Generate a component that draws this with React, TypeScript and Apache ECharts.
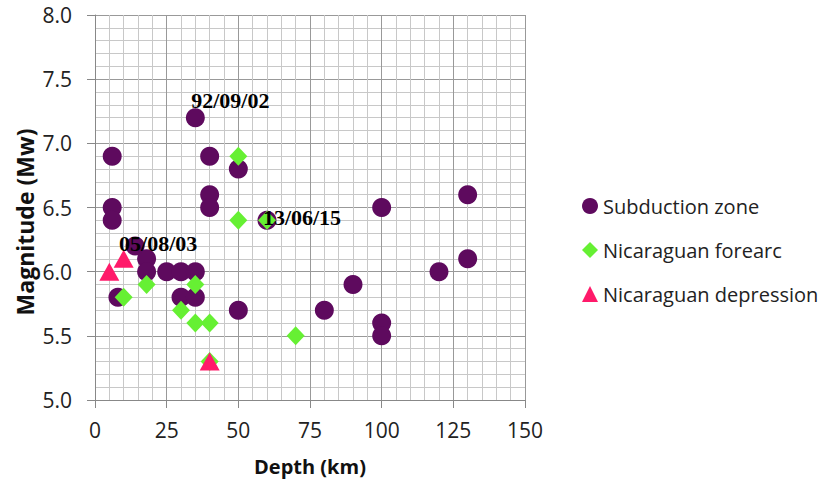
import React, { useEffect, useRef } from "react";
import * as echarts from "echarts";

const subductionDepth = [6, 6, 6, 8, 14, 18, 18, 25, 30, 35, 30, 35, 35, 40, 40, 40, 50, 50, 60, 80, 90, 100, 100, 100, 120, 130, 130];
const subductionMag = [6.9, 6.5, 6.4, 5.8, 6.2, 6.1, 6.0, 6.0, 6.0, 6.0, 5.8, 5.8, 7.2, 6.9, 6.6, 6.5, 6.8, 5.7, 6.4, 5.7, 5.9, 6.5, 5.6, 5.5, 6.0, 6.6, 6.1];

const forearcDepth = [50, 50, 60, 10, 18, 30, 35, 35, 40, 70, 40];
const forearcMag = [6.9, 6.4, 6.4, 5.8, 5.9, 5.7, 5.9, 5.6, 5.6, 5.5, 5.3];

const depressionDepth = [5, 10, 40];
const depressionMag = [6.0, 6.1, 5.3];

const annotationDepth = [35, 60, 14];
const annotationMag = [7.2, 6.4, 6.2];
const annotationText = ["92/09/02", "13/06/15", "05/08/03"];

const seriesNames = ["Subduction zone", "Nicaraguan forearc", "Nicaraguan depression"];
const xTicks = [0, 25, 50, 75, 100, 125, 150];
const yTicks = [5.0, 5.5, 6.0, 6.5, 7.0, 7.5, 8.0];
const xTitle = "Depth (km)";
const yTitle = "Magnitude (Mw)";

const annotationOffsets: number[][] = [[35, -17], [35, -3], [23, -3]];

export default function App() {
  const ref = useRef<HTMLDivElement>(null);
  useEffect(() => {
    if (!ref.current) return;
    const chart = echarts.init(ref.current, undefined, { renderer: "svg" });
    const zip = (a: number[], b: number[]) => a.map((v, i) => [v, b[i]]);
    const font = "'Open Sans', Lato, sans-serif";
    chart.setOption({
      animation: false,
      backgroundColor: "#ffffff",
      grid: { left: 95, right: 302, top: 15, bottom: 83, containLabel: false },
      legend: {
        orient: "vertical",
        left: 577,
        top: 191,
        itemGap: 24,
        itemWidth: 16,
        itemHeight: 16,
        data: seriesNames,
        textStyle: { fontFamily: font, fontSize: 20, color: "#222" },
      },
      graphic: [
        {
          type: "text",
          x: 25,
          y: 222,
          rotation: Math.PI / 2,
          style: {
            text: yTitle,
            fontFamily: font,
            fontSize: 23,
            fontWeight: "bold",
            fill: "#111",
            align: "center",
            verticalAlign: "middle",
          },
        },
      ],
      xAxis: {
        type: "value",
        min: xTicks[0],
        max: xTicks[xTicks.length - 1],
        interval: 25,
        name: xTitle,
        nameLocation: "middle",
        nameGap: 56,
        nameTextStyle: { fontFamily: font, fontSize: 20, fontWeight: "bold", color: "#111" },
        axisLine: { show: true, lineStyle: { color: "#888", width: 1 } },
        axisTick: { show: true, length: 8, lineStyle: { color: "#888" } },
        axisLabel: { fontFamily: font, fontSize: 21, color: "#222", margin: 19 },
        splitLine: { show: true, lineStyle: { color: "#999", width: 1 } },
        minorTick: { show: false, splitNumber: 5 },
        minorSplitLine: { show: true, lineStyle: { color: "#c8c8c8", width: 1 } },
      },
      yAxis: {
        type: "value",
        min: yTicks[0],
        max: yTicks[yTicks.length - 1],
        interval: 0.5,
        axisLine: { show: true, lineStyle: { color: "#888", width: 1 } },
        axisTick: { show: true, length: 8, lineStyle: { color: "#888" } },
        axisLabel: {
          fontFamily: font,
          fontSize: 21,
          color: "#222",
          margin: 23,
          formatter: (v: number) => v.toFixed(1),
        },
        splitLine: { show: true, lineStyle: { color: "#999", width: 1 } },
        minorTick: { show: false, splitNumber: 5 },
        minorSplitLine: { show: true, lineStyle: { color: "#c8c8c8", width: 1 } },
      },
      series: [
        {
          name: seriesNames[0],
          type: "scatter",
          symbol: "circle",
          symbolSize: 19,
          itemStyle: { color: "#5e0a5e", opacity: 1 },
          data: zip(subductionDepth, subductionMag),
          z: 2,
        },
        {
          name: seriesNames[1],
          type: "scatter",
          symbol: "diamond",
          symbolSize: [18, 19],
          itemStyle: { color: "#66f033", opacity: 1 },
          data: zip(forearcDepth, forearcMag),
          z: 3,
        },
        {
          name: seriesNames[2],
          type: "scatter",
          symbol: "triangle",
          symbolSize: [20, 18],
          itemStyle: { color: "#ff1a6a", opacity: 1 },
          data: zip(depressionDepth, depressionMag),
          z: 4,
        },
        {
          name: "annotations",
          type: "scatter",
          symbolSize: 1,
          silent: true,
          z: 10,
          itemStyle: { color: "rgba(0,0,0,0)", opacity: 1 },
          data: annotationDepth.map((d, i) => ({
            value: [d, annotationMag[i]],
            label: {
              show: true,
              position: "inside",
              offset: annotationOffsets[i],
              formatter: annotationText[i],
              fontFamily: "'Liberation Serif', 'Times New Roman', serif",
              fontWeight: "bold",
              fontSize: 22,
              color: "#000",
              textBorderWidth: 0,
              opacity: 1,
            },
          })),
        },
      ],
    });
    return () => chart.dispose();
  }, []);
  return (
    <div
      ref={ref}
      style={{ position: "fixed", left: 0, top: 0, width: 827, height: 483, background: "#fff" }}
    />
  );
}
